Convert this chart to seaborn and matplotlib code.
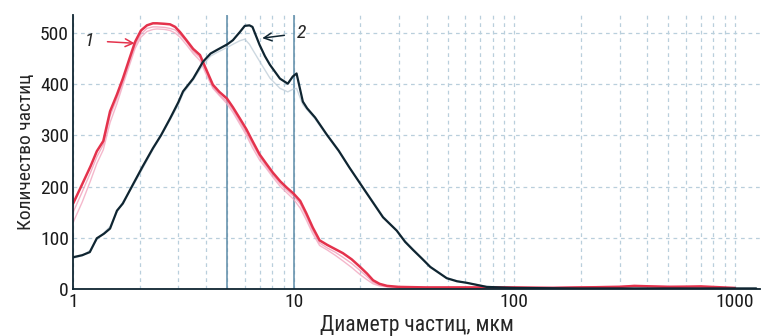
import matplotlib
matplotlib.use("Agg")
import matplotlib.pyplot as plt
from matplotlib import font_manager
import seaborn as sns

# curve 1 (red) and replicates
red_x = [1.0, 1.1, 1.2, 1.28, 1.37, 1.47, 1.58, 1.68, 1.8, 1.91,
         2.03, 2.16, 2.3, 2.4, 2.6, 2.75, 2.9, 3.05, 3.25, 3.5,
         3.76, 4.0, 4.3, 4.6, 4.98, 5.3, 5.7, 6.1, 6.5, 7.0,
         7.5, 8.05, 8.7, 9.3, 10.0, 10.7, 11.4, 12.2, 13.1, 14.2,
         15.4, 16.7, 18.3, 20.0, 21.5, 22.9, 24.5, 26.5, 30, 40,
         60, 100, 150, 200, 300, 350, 500, 700, 1000]
red_y = [167, 205, 240, 269, 289, 347, 380, 411, 450, 483,
         505, 515, 519, 519, 518, 517, 512, 502, 487, 469,
         457, 430, 399, 385, 372, 355, 333, 312, 289, 263,
         245, 227, 210, 198, 186, 172, 148, 120, 95, 86,
         78, 70, 58, 43, 30, 17, 10, 6, 4, 3,
         3, 3, 2, 3, 4, 6, 4, 5, 2]
pink1_y = [130, 170, 212, 245, 272, 325, 362, 398, 437, 470,
           492, 503, 507, 508, 507, 505, 500, 492, 478, 460,
           446, 420, 392, 378, 362, 345, 322, 300, 276, 252,
           236, 218, 200, 188, 175, 158, 135, 108, 85, 76,
           66, 55, 42, 28, 18, 10, 6, 4, 3, 3,
           3, 3, 3, 4, 5, 6, 5, 4, 2]
pink2_y = [150, 190, 228, 258, 282, 338, 372, 404, 444, 476,
           498, 509, 512, 512, 511, 509, 506, 497, 484, 464,
           452, 426, 395, 380, 366, 350, 327, 305, 283, 258,
           240, 222, 205, 193, 181, 166, 142, 114, 90, 80,
           72, 62, 50, 36, 24, 13, 8, 5, 4, 3,
           3, 2, 3, 4, 5, 6, 5, 4, 2]

# curve 2 (dark) and a faint replicate
blk_x = [1.0, 1.1, 1.19, 1.28, 1.38, 1.47, 1.58, 1.68, 1.85, 2.07,
         2.3, 2.5, 2.75, 3.0, 3.15, 3.5, 3.88, 4.2, 4.49, 5.0,
         5.3, 5.7, 6.0, 6.3, 6.5, 7.0, 7.4, 7.8, 8.66, 9.4,
         9.9, 10.3, 11.0, 11.5, 12.5, 14.1, 16.0, 17.9, 21.5, 25.4,
         29.3, 32, 34.8, 38, 41.6, 49.4, 55, 60.9, 75, 100,
         200, 400, 700, 1000, 1250]
blk_y = [62, 66, 72, 99, 108, 118, 153, 167, 201, 240,
         275, 300, 333, 365, 386, 411, 444, 460, 467, 478,
         486, 502, 514, 515, 512, 477, 455, 438, 411, 401,
         415, 421, 366, 353, 335, 302, 270, 237, 186, 140,
         114, 92, 76, 60, 43, 21, 15, 12, 4, 2,
         1, 1, 1, 1, 1]
gray_y = [60, 65, 75, 96, 110, 122, 150, 170, 198, 236,
          272, 298, 330, 360, 382, 408, 438, 455, 462, 472,
          478, 485, 488, 478, 468, 445, 428, 412, 392, 385,
          390, 392, 360, 350, 332, 300, 268, 236, 188, 142,
          115, 94, 78, 61, 44, 22, 16, 12, 5, 2,
          1, 1, 1, 1, 1]

marks = [5, 10]
y_ticks = [0, 100, 200, 300, 400, 500]
x_ticks = [1, 10, 100, 1000]

sns.set_style("white")
installed = {f.name for f in font_manager.fontManager.ttflist}
narrow = [n for n in ['Liberation Sans Narrow', 'DejaVu Sans Condensed', 'Roboto Condensed']
          if n in installed]
plt.rcParams['font.family'] = narrow + ['DejaVu Sans']
fs = 14 if narrow else 13

fig = plt.figure(figsize=(7.7, 3.36), dpi=100)
ax = fig.add_axes([0.095, 0.14, 0.892, 0.815])

grid_c = '#b9cfdc'
sns.lineplot(x=red_x, y=pink1_y, ax=ax, color='#f2a6bf', lw=1.0, alpha=0.8)
sns.lineplot(x=red_x, y=pink2_y, ax=ax, color='#ee8fae', lw=1.0, alpha=0.7)
sns.lineplot(x=blk_x, y=gray_y, ax=ax, color='#b8c8d4', lw=1.0, alpha=0.7)
sns.lineplot(x=red_x, y=red_y, ax=ax, color='#e4324c', lw=1.8)
sns.lineplot(x=blk_x, y=blk_y, ax=ax, color='#0f2531', lw=1.6)

for m in marks:
    ax.axvline(m, color='#5d8ca8', lw=1.1, zorder=1)

ax.set_xscale('log')
ax.set_xlim(1, 1300)
ax.set_ylim(0, 535)
ax.set_xticks(x_ticks)
ax.set_xticklabels([str(t) for t in x_ticks])
ax.set_yticks(y_ticks)
ax.grid(True, which='both', axis='x', ls=(0, (3, 3)), color=grid_c, lw=0.9)
ax.grid(True, which='major', axis='y', ls=(0, (3, 3)), color=grid_c, lw=0.9)
ax.tick_params(axis='both', which='both', length=0, labelsize=fs, pad=3, colors='#1a1a1a')

for s in ['top', 'right']:
    ax.spines[s].set_visible(False)
for s in ['left', 'bottom']:
    ax.spines[s].set_color('#0f2531')
    ax.spines[s].set_linewidth(1.3)

ax.set_xlabel("Диаметр частиц, мкм", fontsize=fs + 1.5, labelpad=3)
ax.set_ylabel("Количество частиц", fontsize=fs, labelpad=4)

ax.annotate("1", xy=(1.9, 480), xytext=(1.19, 485), fontsize=fs, style='italic',
            va='center', ha='center',
            arrowprops=dict(arrowstyle='->', color='#e4324c', lw=1.1, shrinkA=7, shrinkB=0))
ax.annotate("2", xy=(7.2, 490), xytext=(10.9, 500), fontsize=fs, style='italic',
            va='center', ha='center',
            arrowprops=dict(arrowstyle='->', color='#0f2531', lw=1.1, shrinkA=7, shrinkB=0))

fig.savefig("out.png", dpi=100)
